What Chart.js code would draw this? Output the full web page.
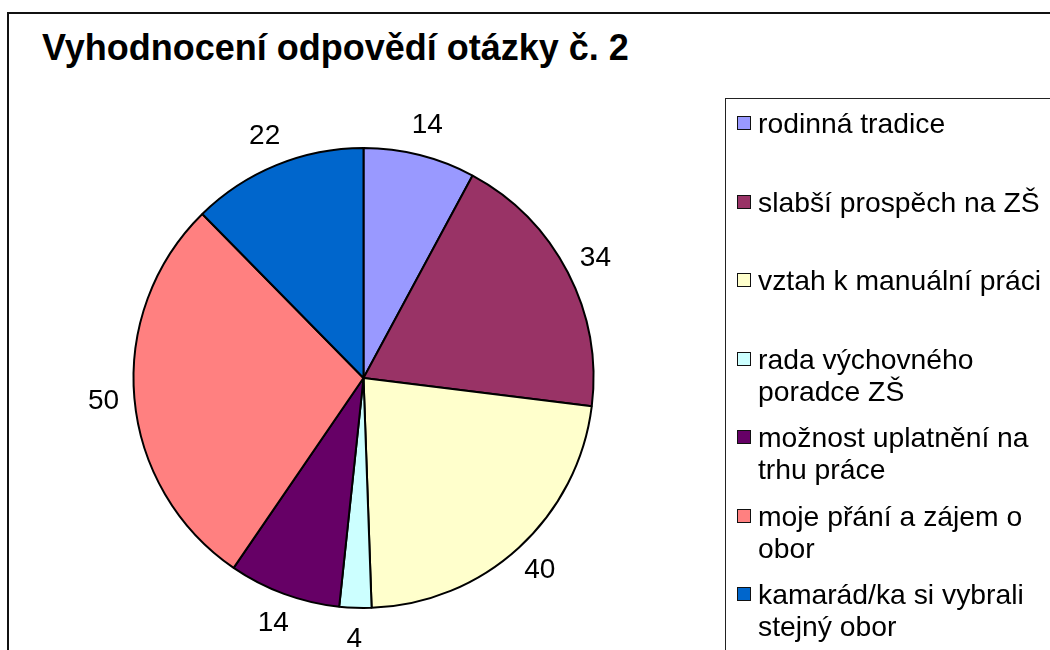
<!DOCTYPE html>
<html>
<head>
<meta charset="utf-8">
<script src="https://cdn.jsdelivr.net/npm/chart.js@4"></script>
<style>
  body { margin: 0; background: #fff; }
  .wrap { position: relative; width: 1050px; height: 650px; overflow: hidden; font-family: 'Liberation Sans', Arial, sans-serif; }
  .frame { position: absolute; left: 7px; top: 12px; width: 1100px; height: 700px; border: 2px solid #111; box-sizing: border-box; }
  .title { position: absolute; left: 42px; top: 27px; font-size: 36px; font-weight: bold; color: #000; white-space: nowrap; }
  #chart-wrap { position: absolute; left: 0; top: 0; width: 1050px; height: 650px; }
  #chart__legend { position: absolute; left: 725px; top: 98px; width: 400px; height: 600px; border: 1px solid #222; box-sizing: border-box; }
  .chart__legend { list-style: none; padding: 8px 0 0 0; margin: 0; }
  .legend__list-item { display: flex; flex-direction: row; align-items: flex-start; height: 78.5px; }
  .legend-item__icon { width: 12px; height: 12px; border: 1.5px solid #111; margin: 9px 7px 0 11px; flex: none; }
  .legend-item__text { margin: 0; font-size: 28.3px; line-height: 32px; color: #000; white-space: nowrap; }
</style>
</head>
<body>
<div class="wrap">
  <div class="frame"></div>
  <div class="title">Vyhodnocení odpovědí otázky č. 2</div>
  <div id="chart-wrap"><canvas id="pie-chart" width="1050" height="650"></canvas></div>
  <div id="chart__legend"></div>
</div>
<script>
const categories = [
  ['rodinná tradice'],
  ['slabší prospěch na ZŠ'],
  ['vztah k manuální práci'],
  ['rada výchovného', 'poradce ZŠ'],
  ['možnost uplatnění na', 'trhu práce'],
  ['moje přání a zájem o', 'obor'],
  ['kamarád/ka si vybrali', 'stejný obor']
];
const answers = [14, 34, 40, 4, 14, 50, 22];
const sliceColors = ['#9999FF', '#993366', '#FFFFCC', '#CCFFFF', '#660066', '#FF8080', '#0066CC'];

const pieChart = document.getElementById('pie-chart');

const getOrCreateLegendList = (chart, id) => {
  const legendContainer = document.getElementById(id);
  let listContainer = legendContainer.querySelector('ul');
  if (!listContainer) {
    listContainer = document.createElement('ul');
    listContainer.classList.add('chart__legend');
    legendContainer.appendChild(listContainer);
  }
  return listContainer;
};

const htmlLegendPlugin = {
  id: 'htmlLegend',
  afterUpdate(chart, args, options) {
    const ul = getOrCreateLegendList(chart, options.containerID);
    while (ul.firstChild) {
      ul.firstChild.remove();
    }
    const items = chart.options.plugins.legend.labels.generateLabels(chart);
    items.forEach(item => {
      const li = document.createElement('li');
      li.classList.add('legend__list-item');

      const boxSpan = document.createElement('span');
      boxSpan.classList.add('legend-item__icon');
      boxSpan.style.background = item.fillStyle;

      const textContainer = document.createElement('p');
      textContainer.classList.add('legend-item__text');
      const lines = Array.isArray(item.text) ? item.text : [item.text];
      lines.forEach((line, i) => {
        if (i > 0) textContainer.appendChild(document.createElement('br'));
        textContainer.appendChild(document.createTextNode(line));
      });

      li.appendChild(boxSpan);
      li.appendChild(textContainer);
      ul.appendChild(li);
    });
  }
};

// value labels outside the slices
const outsideLabels = {
  id: 'outsideLabels',
  afterDatasetsDraw(chart) {
    const ctx = chart.ctx;
    const meta = chart.getDatasetMeta(0);
    ctx.save();
    ctx.font = '28px "Liberation Sans", Arial, sans-serif';
    ctx.fillStyle = '#000';
    ctx.textAlign = 'center';
    ctx.textBaseline = 'middle';
    meta.data.forEach((arc, i) => {
      const mid = (arc.startAngle + arc.endAngle) / 2;
      const r = arc.outerRadius + 31;
      ctx.fillText(String(answers[i]), arc.x + Math.cos(mid) * r, arc.y + Math.sin(mid) * r);
    });
    ctx.restore();
  }
};

new Chart(pieChart, {
  type: 'pie',
  data: {
    labels: categories,
    datasets: [{
      data: answers,
      backgroundColor: sliceColors,
      borderColor: '#000',
      borderWidth: 2,
    }]
  },
  options: {
    responsive: false,
    animation: false,
    layout: {
      padding: { left: 132, right: 455, top: 147, bottom: 41 }
    },
    plugins: {
      htmlLegend: {
        containerID: 'chart__legend',
      },
      legend: { display: false },
      tooltip: { enabled: false }
    }
  },
  plugins: [htmlLegendPlugin, outsideLabels]
});
</script>
</body>
</html>
